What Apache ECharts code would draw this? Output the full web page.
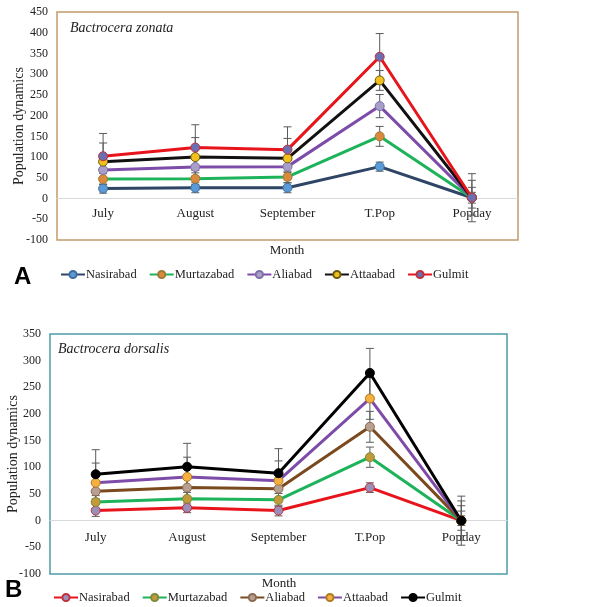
<!DOCTYPE html>
<html>
<head>
<meta charset="utf-8">
<script src="https://cdn.jsdelivr.net/npm/echarts@6/dist/echarts.min.js"></script>
<style>
html,body{margin:0;padding:0;background:#fff;}
#a{position:absolute;left:0;top:0;width:614px;height:300px;}
#b{position:absolute;left:0;top:300px;width:614px;height:307px;}
</style>
</head>
<body>
<div id="a"></div>
<div id="b"></div>
<script>
const categories = ['July', 'August', 'September', 'T.Pop', 'Popday'];
const seriesNames = ['Nasirabad', 'Murtazabad', 'Aliabad', 'Attaabad', 'Gulmit'];

// Panel A: Bactrocera zonata
const zNasirabad = [24, 26, 26, 77, 2];
const zMurtazabad = [47, 48, 52, 150, 2];
const zAliabad = [69, 76, 77, 223, 2];
const zAttaabad = [89, 100, 97, 285, 2];
const zGulmit = [102, 123, 118, 342, 2];
const zNasirabadErr = [11, 12, 12, 11, 3];
const zMurtazabadErr = [13, 14, 14, 24, 13];
const zAliabadErr = [20, 22, 22, 28, 25];
const zAttaabadErr = [45, 47, 48, 24, 42];
const zGulmitErr = [55, 55, 55, 56, 58];

// Panel B: Bactrocera dorsalis
const dNasirabad = [19, 24, 19, 62, 0];
const dMurtazabad = [35, 41, 39, 119, 0];
const dAliabad = [55, 62, 60, 176, 0];
const dAttaabad = [71, 82, 75, 229, 0];
const dGulmit = [87, 101, 89, 277, 0];
const dNasirabadErr = [11, 9, 10, 9, 9];
const dMurtazabadErr = [12, 12, 12, 19, 18];
const dAliabadErr = [18, 20, 20, 29, 28];
const dAttaabadErr = [37, 37, 37, 39, 37];
const dGulmitErr = [46, 44, 46, 46, 46];

const yTicksA = {min: -100, max: 450, interval: 50};
const yTicksB = {min: -100, max: 350, interval: 50};

const SERIF = '"Liberation Serif", "Times New Roman", serif';

function errRender(params, api) {
  const x = api.value(0), y = api.value(1), e = api.value(2);
  const hi = api.coord([x, y + e]);
  const lo = api.coord([x, y - e]);
  const w = 4;
  const style = {stroke: '#5a5a5a', lineWidth: 1};
  return {type: 'group', children: [
    {type: 'line', shape: {x1: hi[0], y1: hi[1], x2: lo[0], y2: lo[1]}, style: style},
    {type: 'line', shape: {x1: hi[0] - w, y1: hi[1], x2: hi[0] + w, y2: hi[1]}, style: style},
    {type: 'line', shape: {x1: lo[0] - w, y1: lo[1], x2: lo[0] + w, y2: lo[1]}, style: style}
  ]};
}

function build(cfg) {
  const series = [];
  cfg.values.forEach(function (vals, k) {
    series.push({
      type: 'custom', name: 'err' + k, renderItem: errRender, z: 1,
      encode: {x: 0, y: 1},
      data: vals.map(function (v, i) { return [i, v, cfg.errs[k][i]]; })
    });
  });
  cfg.values.forEach(function (vals, k) {
    series.push({
      type: 'line', name: seriesNames[k], data: vals, z: 3,
      symbol: 'circle', symbolSize: 9,
      lineStyle: {color: cfg.lineColors[k], width: 3},
      itemStyle: {color: cfg.markColors[k], borderColor: cfg.markBorders[k], borderWidth: 1},
      emphasis: {disabled: true}
    });
  });
  // place the category axis on the zero value of the y scale
  const zeroOffset = -cfg.grid.height * (0 - cfg.y.min) / (cfg.y.max - cfg.y.min);
  return {
    animation: false,
    backgroundColor: '#fff',
    grid: {left: cfg.grid.left, top: cfg.grid.top, width: cfg.grid.width, height: cfg.grid.height,
      outerBoundsMode: 'none', containLabel: false,
      show: true, borderColor: cfg.frame, borderWidth: 1.5, backgroundColor: '#fff'},
    xAxis: {type: 'category', data: categories, boundaryGap: true, position: 'bottom', offset: zeroOffset,
      axisLine: {show: true, onZero: false, lineStyle: {color: '#d9d9d9', width: 1}},
      axisTick: {show: false},
      axisLabel: {fontFamily: SERIF, fontSize: 13, color: '#222', margin: cfg.xLabelMargin},
      splitLine: {show: false}},
    yAxis: {type: 'value', min: cfg.y.min, max: cfg.y.max, interval: cfg.y.interval,
      axisLine: {show: false}, axisTick: {show: false}, splitLine: {show: false},
      axisLabel: {fontFamily: SERIF, fontSize: 12, color: '#222', margin: cfg.yLabelMargin},
      name: 'Population dynamics', nameLocation: 'middle', nameGap: cfg.yNameGap, nameMoveOverlap: false,
      nameTextStyle: {fontFamily: SERIF, fontSize: 14, color: '#222'}},
    legend: {data: seriesNames, left: cfg.legendLeft, top: cfg.legendTop, itemGap: 12, padding: 0,
      itemWidth: 24, itemHeight: 9,
      textStyle: {fontFamily: SERIF, fontSize: 12.5, color: '#222', padding: [0, 0, 0, -4]}},
    graphic: [
      {type: 'text', x: cfg.titleLeft, y: cfg.titleTop,
        style: {text: cfg.title, font: 'italic 14px ' + SERIF, fill: '#222', textVerticalAlign: 'top'}},
      {type: 'text', x: cfg.monthX, y: cfg.monthY,
        style: {text: 'Month', font: '13px ' + SERIF, fill: '#222', textAlign: 'center', textVerticalAlign: 'middle'}},
      {type: 'text', x: cfg.letterLeft, y: cfg.letterY,
        style: {text: cfg.letter, font: 'bold 24px "Liberation Sans", Arial, sans-serif', fill: '#000', textVerticalAlign: 'middle'}}
    ],
    series: series
  };
}

const chartA = echarts.init(document.getElementById('a'));
chartA.setOption(build({
  values: [zNasirabad, zMurtazabad, zAliabad, zAttaabad, zGulmit],
  errs: [zNasirabadErr, zMurtazabadErr, zAliabadErr, zAttaabadErr, zGulmitErr],
  lineColors: ['#2E4566', '#1DB35A', '#7D4CA8', '#111111', '#E8141C'],
  markColors: ['#5B9BD5', '#D98A3A', '#A89FC8', '#F2C01E', '#6B6FB2'],
  markBorders: ['#3F6E9E', '#9E7A3A', '#7D6FA8', '#6B5A10', '#C0303A'],
  grid: {left: 57, top: 12, width: 461, height: 228},
  frame: '#C49A6C',
  y: yTicksA,
  xLabelMargin: 9, yLabelMargin: 9, yNameGap: 31,
  legendLeft: 60, legendTop: 268,
  title: 'Bactrocera zonata', titleLeft: 70, titleTop: 21,
  monthX: 287, monthY: 251,
  letter: 'A', letterLeft: 14, letterY: 277
}));

const chartB = echarts.init(document.getElementById('b'));
chartB.setOption(build({
  values: [dNasirabad, dMurtazabad, dAliabad, dAttaabad, dGulmit],
  errs: [dNasirabadErr, dMurtazabadErr, dAliabadErr, dAttaabadErr, dGulmitErr],
  lineColors: ['#E8141C', '#1DB35A', '#7A4A1E', '#7D4CA8', '#000000'],
  markColors: ['#9A8FBA', '#C29A3A', '#B8A090', '#F5B041', '#000000'],
  markBorders: ['#C0303A', '#7E8A3A', '#8A6A50', '#B07A20', '#000000'],
  grid: {left: 50, top: 34, width: 457, height: 240},
  frame: '#4E9AA8',
  y: yTicksB,
  xLabelMargin: 10, yLabelMargin: 9, yNameGap: 30,
  legendLeft: 53, legendTop: 291,
  title: 'Bactrocera dorsalis', titleLeft: 58, titleTop: 42,
  monthX: 279, monthY: 284,
  letter: 'B', letterLeft: 5, letterY: 290
}));
</script>
</body>
</html>
